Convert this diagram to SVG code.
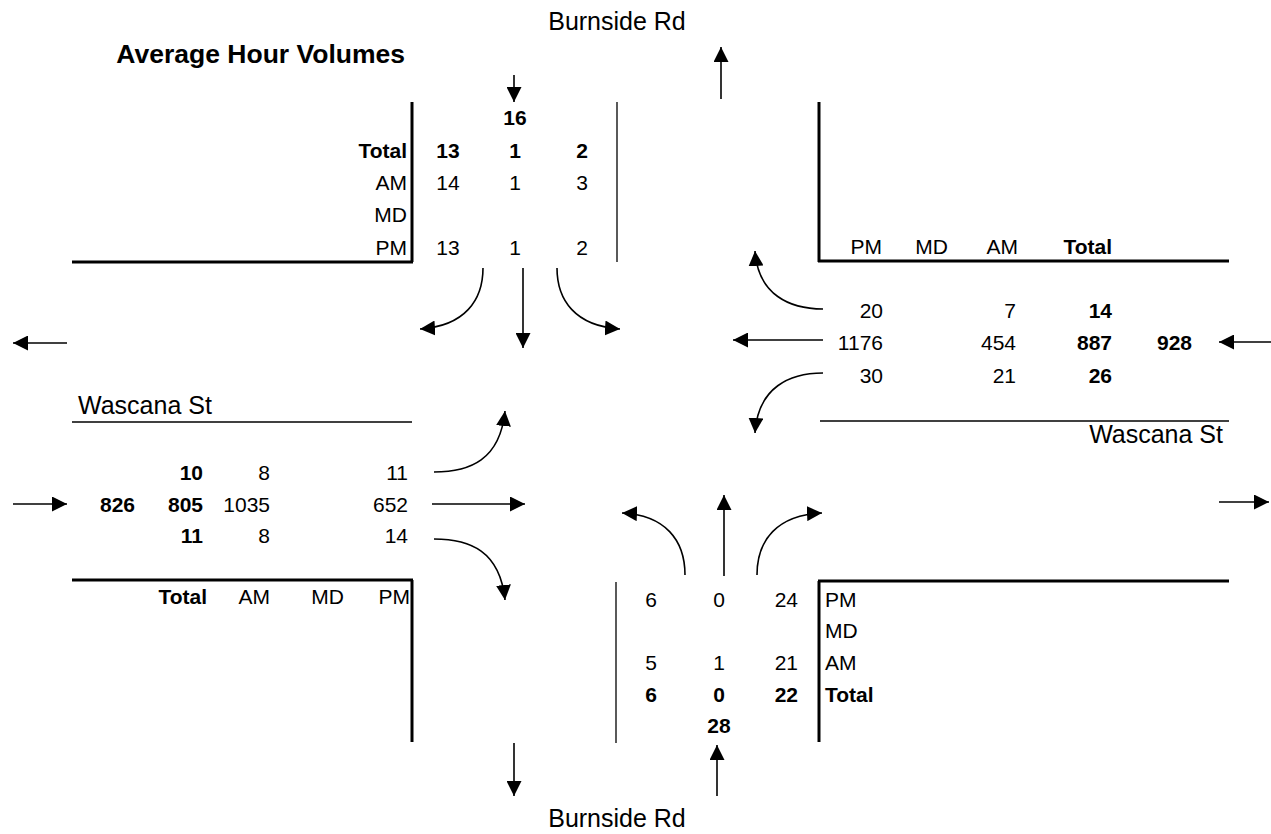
<svg xmlns="http://www.w3.org/2000/svg" width="1271" height="834" viewBox="0 0 1271 834">
<defs>
<marker id="ah" markerWidth="15" markerHeight="15" refX="15" refY="7.5" orient="auto" markerUnits="userSpaceOnUse"><path d="M0,0 L15,7.5 L0,15 z" fill="#000"/></marker>
<style>
text{font-family:"Liberation Sans",Arial,sans-serif;font-size:21px;fill:#000}
.b{font-weight:bold}
.st{font-size:25px}
.tt{font-size:26.5px}
.m{text-anchor:middle}
.e{text-anchor:end}
.thick{stroke:#000;stroke-width:3;fill:none}
.thin{stroke:#000;stroke-width:1.3;fill:none}
.arr{stroke:#000;stroke-width:1.6;fill:none;marker-end:url(#ah)}
</style>
</defs>
<rect width="1271" height="834" fill="#fff"/>
<g id="title"><text class="b tt" x="405" y="63" text-anchor="end">Average Hour Volumes</text></g>
<g id="street-north"><text class="st m" x="617" y="30">Burnside Rd</text></g>
<g id="street-south"><text class="st m" x="617" y="827">Burnside Rd</text></g>
<g id="street-west"><text class="st" x="78" y="414">Wascana St</text></g>
<g id="street-east"><text class="st e" x="1223" y="443">Wascana St</text></g>

<g id="north-approach">
<line class="thick" x1="412" y1="102" x2="412" y2="262"/>
<line class="thick" x1="72" y1="262" x2="413" y2="262"/>
<line class="thin" x1="617" y1="102" x2="617" y2="262"/>
<text class="b m" x="515" y="125">16</text>
<text class="b e" x="407" y="158">Total</text>
<text class="b m" x="448" y="158">13</text><text class="b m" x="515" y="158">1</text><text class="b m" x="582" y="158">2</text>
<text class="e" x="407" y="190">AM</text>
<text class="m" x="448" y="190">14</text><text class="m" x="515" y="190">1</text><text class="m" x="582" y="190">3</text>
<text class="e" x="407" y="222">MD</text>
<text class="e" x="407" y="255">PM</text>
<text class="m" x="448" y="255">13</text><text class="m" x="515" y="255">1</text><text class="m" x="582" y="255">2</text>
</g>

<g id="east-approach">
<line class="thick" x1="819" y1="102" x2="819" y2="262"/>
<line class="thick" x1="818" y1="261" x2="1229" y2="261"/>
<line class="thin" x1="820" y1="421" x2="1229" y2="421"/>
<text class="e" x="882" y="254">PM</text>
<text class="e" x="948" y="254">MD</text>
<text class="e" x="1018" y="254">AM</text>
<text class="b e" x="1112" y="254">Total</text>
<text class="e" x="883" y="318">20</text><text class="e" x="1016" y="318">7</text><text class="b e" x="1112" y="318">14</text>
<text class="e" x="883" y="350">1176</text><text class="e" x="1016" y="350">454</text><text class="b e" x="1112" y="350">887</text><text class="b e" x="1192" y="350">928</text>
<text class="e" x="883" y="383">30</text><text class="e" x="1016" y="383">21</text><text class="b e" x="1112" y="383">26</text>
</g>

<g id="west-approach">
<line class="thin" x1="72" y1="422" x2="412" y2="422"/>
<line class="thick" x1="72" y1="580" x2="413" y2="580"/>
<line class="thick" x1="412" y1="580" x2="412" y2="742"/>
<text class="b e" x="203" y="480">10</text><text class="e" x="270" y="480">8</text><text class="e" x="408" y="480">11</text>
<text class="b e" x="135" y="512">826</text><text class="b e" x="203" y="512">805</text><text class="e" x="270" y="512">1035</text><text class="e" x="408" y="512">652</text>
<text class="b e" x="203" y="543">11</text><text class="e" x="270" y="543">8</text><text class="e" x="408" y="543">14</text>
<text class="b e" x="207" y="604">Total</text>
<text class="e" x="270" y="604">AM</text>
<text class="e" x="344" y="604">MD</text>
<text class="e" x="410" y="604">PM</text>
</g>

<g id="south-approach">
<line class="thin" x1="616" y1="582" x2="616" y2="743"/>
<line class="thick" x1="819" y1="581" x2="819" y2="742"/>
<line class="thick" x1="818" y1="581" x2="1229" y2="581"/>
<text class="m" x="651" y="607">6</text><text class="m" x="719" y="607">0</text><text class="e" x="798" y="607">24</text>
<text class="m" x="651" y="670">5</text><text class="m" x="719" y="670">1</text><text class="e" x="798" y="670">21</text>
<text class="b m" x="651" y="702">6</text><text class="b m" x="719" y="702">0</text><text class="b e" x="798" y="702">22</text>
<text class="b m" x="719" y="733">28</text>
<text x="825" y="607">PM</text>
<text x="825" y="638">MD</text>
<text x="825" y="670">AM</text>
<text class="b" x="825" y="702">Total</text>
</g>

<g id="connectors">
<line class="arr" x1="514" y1="75" x2="514" y2="102"/>
<line class="arr" x1="721" y1="99" x2="721" y2="47"/>
<path class="arr" d="M483,268 C483,300 465,326 420,329"/>
<line class="arr" x1="523" y1="268" x2="523" y2="348"/>
<path class="arr" d="M557,268 C557,300 575,326 620,329"/>
<line class="arr" x1="1271" y1="342" x2="1219" y2="342"/>
<path class="arr" d="M823,309 C790,309 758,295 755,251"/>
<line class="arr" x1="823" y1="340" x2="733" y2="340"/>
<path class="arr" d="M823,373 C790,373 758,387 755,433"/>
<line class="arr" x1="67" y1="343" x2="13" y2="343"/>
<line class="arr" x1="13" y1="504" x2="67" y2="504"/>
<path class="arr" d="M434,472 C470,472 500,460 505,411"/>
<line class="arr" x1="432" y1="504" x2="525" y2="504"/>
<path class="arr" d="M434,539 C470,539 500,551 505,600"/>
<line class="arr" x1="1219" y1="502" x2="1269" y2="502"/>
<line class="arr" x1="724" y1="576" x2="724" y2="495"/>
<path class="arr" d="M685,575 C685,540 665,515 622,513"/>
<path class="arr" d="M757,575 C757,540 777,515 822,513"/>
<line class="arr" x1="514" y1="743" x2="514" y2="796"/>
<line class="arr" x1="717" y1="796" x2="717" y2="745"/>
</g>
</svg>
